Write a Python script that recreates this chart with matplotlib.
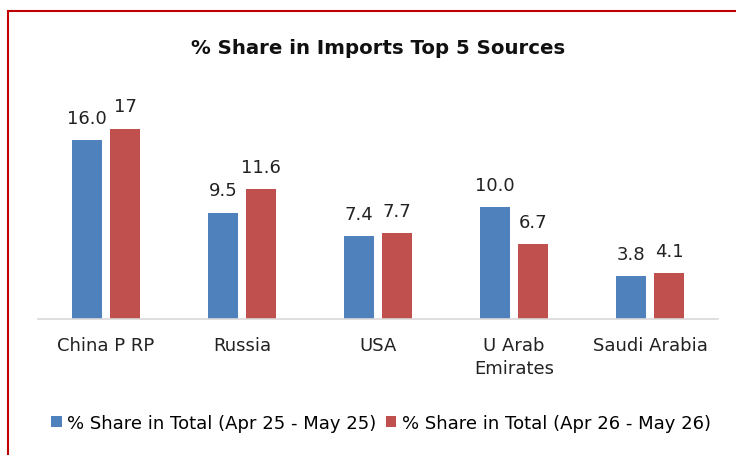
import numpy as np
import matplotlib.pyplot as plt
from matplotlib.patches import Rectangle

# chart data
countries = ["China P RP", "Russia", "USA", "U Arab\nEmirates", "Saudi Arabia"]
share_2025 = [16.0, 9.5, 7.4, 10.0, 3.8]
share_2026 = [17, 11.6, 7.7, 6.7, 4.1]
labels_2025 = ["16.0", "9.5", "7.4", "10.0", "3.8"]
labels_2026 = ["17", "11.6", "7.7", "6.7", "4.1"]
series_names = ["% Share in Total (Apr 25 - May 25)", "% Share in Total (Apr 26 - May 26)"]

blue = "#4f81bd"
red = "#c0504d"

fig = plt.figure(figsize=(7.36, 4.56), dpi=100)
ax = fig.add_axes([38 / 736, 1 - 320 / 456, 680 / 736, 224 / 456])

x = np.arange(len(countries))
w = 0.22
off = 0.14
b1 = ax.bar(x - off, share_2025, w, color=blue, label=series_names[0])
b2 = ax.bar(x + off, share_2026, w, color=red, label=series_names[1])

for bars, labs in [(b1, labels_2025), (b2, labels_2026)]:
    for bar, lab in zip(bars, labs):
        ax.annotate(lab, (bar.get_x() + bar.get_width() / 2, bar.get_height()),
                    xytext=(0, 9.5), textcoords="offset points",
                    ha="center", va="bottom", fontsize=13, color="#222222")

ax.set_xlim(-0.5, len(countries) - 0.5)
ax.set_ylim(0, 20)
ax.set_yticks([])
ax.set_xticks(x)
ax.set_xticklabels(countries, fontsize=13, color="#222222", linespacing=1.4)
ax.tick_params(axis="x", length=0, pad=12)
for s in ["top", "right", "left"]:
    ax.spines[s].set_visible(False)
ax.spines["bottom"].set_color("#d9d9d9")
ax.spines["bottom"].set_linewidth(1.2)

fig.text(378 / 736, 1 - 48 / 456, "% Share in Imports Top 5 Sources", ha="center", va="center",
         fontsize=14.2, fontweight="bold", color="#111111")

fig.legend(loc="center", bbox_to_anchor=(381 / 736, 1 - 424 / 456), ncol=2, frameon=False,
           fontsize=13, handlelength=0.6, handleheight=0.6, handletextpad=0.3, columnspacing=0.5)

# red outer border (top and left edges visible)
fig.patches.append(Rectangle((8 / 736, -0.1), 1.2, 1 - 12 / 456 + 0.1, transform=fig.transFigure,
                             fill=False, edgecolor="#c00000", linewidth=1.5))

fig.savefig("out.png", dpi=100)
